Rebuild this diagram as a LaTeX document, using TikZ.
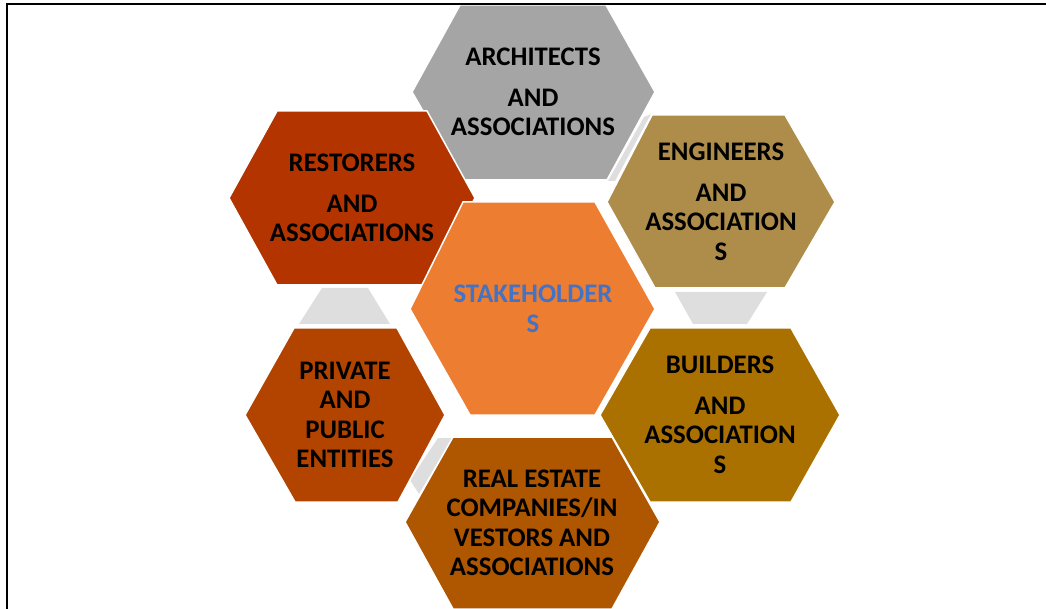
\documentclass[tikz,border=0pt]{standalone}
\usepackage{fontspec}
\setmainfont{Carlito}
\usepackage{tikz}

\definecolor{archgray}{HTML}{A5A5A5}
\definecolor{restred}{HTML}{B43400}
\definecolor{enggold}{HTML}{AE8C4A}
\definecolor{centreorange}{HTML}{ED7D31}
\definecolor{buildbrown}{HTML}{AA7000}
\definecolor{privbrown}{HTML}{B24400}
\definecolor{realbrown}{HTML}{AE5600}
\definecolor{linkgray}{HTML}{DEDEDE}
\definecolor{titleblue}{HTML}{4472C4}

\begin{document}
\begin{tikzpicture}[x=1pt, y=-1pt,
  hexa/.style={draw=white, line width=1.5pt},
  hexlabel/.style={align=center, text=black, font=\fontsize{26.8}{29.5}\selectfont\bfseries}]

\useasboundingbox (0,0) rectangle (1046,609);

% grey links behind the hexagons
\fill[linkgray] (322,288) -- (368,288) -- (390,324) -- (299,324) -- cycle;
\fill[linkgray] (675,292) -- (767,292) -- (747,324) -- (693,324) -- cycle;
\fill[linkgray] (644,117) -- (651,114) -- (615,181) -- (608,181) -- cycle;
\fill[linkgray] (438,438) -- (452,438) -- (419,494) -- (410,480) -- cycle;

\fill[archgray, hexa] (460,5) -- (606,5) -- (655,92) -- (607,180) -- (463,180) -- (412,92) -- cycle;
\node[hexlabel] (architects) at (533,92) {ARCHITECTS\\[11pt]AND\\ASSOCIATIONS};

\fill[restred, hexa] (277,111) -- (427,111) -- (475,198) -- (427,285) -- (277,285) -- (229,198) -- cycle;
\node[hexlabel] (restorers) at (352,198) {RESTORERS\\[11pt]AND\\ASSOCIATIONS};

\fill[enggold, hexa] (652,115) -- (785,115) -- (835,202) -- (785,288) -- (655,288) -- (607,202) -- cycle;
\node[hexlabel] (engineers) at (721,202) {ENGINEERS\\[11pt]AND\\ASSOCIATION\\S};

\fill[centreorange, hexa] (463,202) -- (595,202) -- (655,309) -- (595,415) -- (470,415) -- (410,309) -- cycle;
\node[hexlabel, text=titleblue] (stakeholders) at (533,309) {STAKEHOLDER\\S};

\fill[buildbrown, hexa] (650,328) -- (791,328) -- (840,415) -- (791,502) -- (650,502) -- (600,415) -- cycle;
\node[hexlabel] (builders) at (720,415) {BUILDERS\\[11pt]AND\\ASSOCIATION\\S};

\fill[privbrown, hexa] (294,328) -- (397,328) -- (445,415) -- (398,502) -- (295,502) -- (245,415) -- cycle;
\node[hexlabel] (entities) at (345,415) {PRIVATE\\AND\\PUBLIC\\ENTITIES};

\fill[realbrown, hexa] (453,437) -- (612,437) -- (660,522) -- (612,609) -- (453,609) -- (405,522) -- cycle;
\node[hexlabel] (realestate) at (532,523) {REAL ESTATE\\COMPANIES/IN\\VESTORS AND\\ASSOCIATIONS};

% frame
\draw[line width=2pt] (7,609) -- (7,4) -- (1046,4);
\end{tikzpicture}
\end{document}
